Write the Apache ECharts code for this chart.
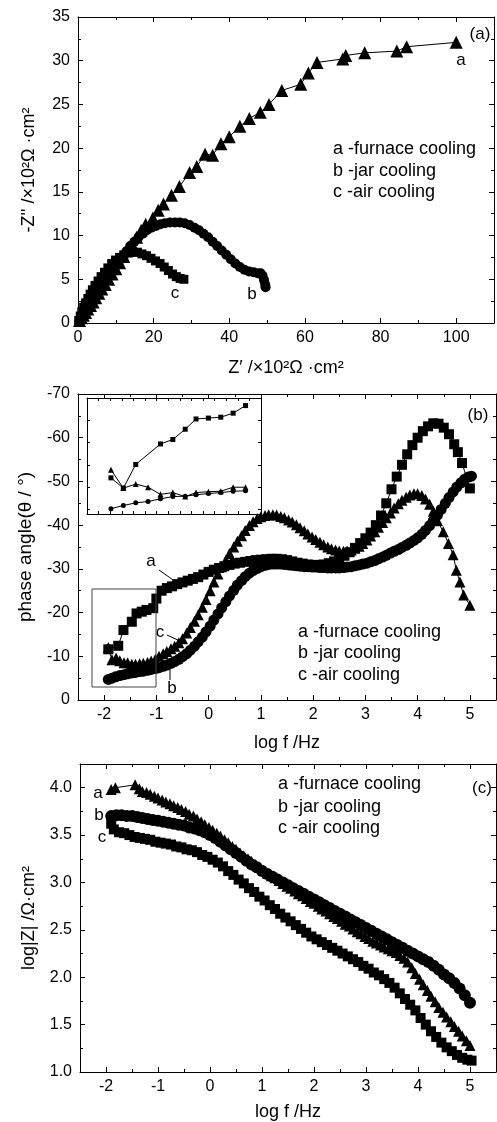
<!DOCTYPE html>
<html>
<head>
<meta charset="utf-8">
<script src="https://cdn.jsdelivr.net/npm/echarts@6/dist/echarts.min.js"></script>
<style>
  html, body { margin: 0; padding: 0; background: #fff; }
  #chart { width: 497px; height: 1122px; }
</style>
</head>
<body>
<div id="chart"></div>
<script>
// (a) Nyquist: [Z', -Z''] in 10^2 ohm.cm2
const nyqFurnace = [[0.4,0.3],[0.9,0.6],[1.4,0.9],[2.0,1.2],[2.6,1.6],[3.3,2.0],[4.0,2.4],[4.7,2.9],[5.5,3.4],[6.3,3.9],[7.2,4.4],[8.1,5.0],[9.0,5.6],[10.0,6.2],[11.0,6.9],[12.1,7.6],[13.2,8.3],[14.3,9.0],[15.5,9.8],[16.7,10.6],[17.9,11.3],[19.8,12.0],[21.2,12.9],[22.6,13.6],[24.7,14.6],[26.8,15.6],[29.5,17.2],[31.4,17.9],[33.6,19.3],[35.6,19.2],[37.8,20.5],[40.0,21.3],[42.8,22.5],[45.3,23.4],[48.2,24.1],[50.5,25.0],[53.9,26.6],[58.9,27.3],[60.9,28.6],[63.2,29.8],[70.0,30.2],[70.8,30.6],[75.8,30.9],[84.3,31.1],[86.9,31.6],[100.0,32.1]];
const nyqJar = [[0.3,0.2],[0.8,0.5],[1.4,0.9],[2.0,1.3],[2.7,1.7],[3.4,2.2],[4.2,2.7],[5.0,3.2],[5.9,3.8],[6.8,4.4],[7.7,5.0],[8.7,5.6],[9.7,6.3],[10.7,6.9],[11.7,7.6],[12.8,8.2],[13.8,8.8],[14.9,9.3],[16.0,9.8],[17.1,10.2],[18.2,10.6],[19.4,10.9],[20.6,11.1],[21.8,11.3],[23.0,11.4],[24.3,11.5],[25.6,11.5],[26.9,11.5],[28.2,11.4],[29.5,11.2],[30.8,10.9],[32.0,10.6],[33.2,10.2],[34.4,9.8],[35.6,9.3],[36.8,8.8],[38.0,8.3],[39.2,7.8],[40.4,7.3],[41.6,6.8],[42.8,6.4],[44.0,6.1],[45.2,5.9],[46.4,5.8],[47.5,5.7],[48.3,5.7],[48.8,5.4],[49.2,4.9],[49.5,4.4],[49.6,4.1]];
const nyqAir = [[0.2,0.3],[0.6,0.8],[1.0,1.3],[1.5,1.8],[2.0,2.3],[2.6,2.8],[3.2,3.3],[3.8,3.8],[4.5,4.3],[5.3,4.8],[6.1,5.3],[7.0,5.8],[7.9,6.3],[8.9,6.8],[9.9,7.2],[11.0,7.5],[12.1,7.8],[13.3,8.0],[14.5,8.1],[15.7,8.1],[16.9,7.9],[18.1,7.7],[19.3,7.4],[20.5,7.1],[21.7,6.8],[22.8,6.4],[23.9,6.0],[25.0,5.6],[26.0,5.3],[27.0,5.1],[28.0,5.0]];

// (b) phase angle vs log f
const phaseFurnace = [[-1.92,-11.6],[-1.73,-12.4],[-1.63,-16.0],[-1.47,-17.9],[-1.38,-19.8],[-1.28,-20.2],[-1.19,-20.6],[-1.06,-21.0],[-1.0,-23.2],[-0.9,-25.0],[-0.8,-25.6],[-0.7,-26.0],[-0.6,-26.5],[-0.5,-26.9],[-0.4,-27.3],[-0.3,-27.7],[-0.2,-28.1],[-0.1,-28.7],[0.0,-29.3],[0.1,-29.8],[0.2,-30.2],[0.3,-30.6],[0.4,-30.9],[0.5,-31.2],[0.6,-31.4],[0.7,-31.6],[0.8,-31.8],[0.9,-32.0],[1.0,-32.1],[1.1,-32.2],[1.2,-32.3],[1.3,-32.3],[1.4,-32.2],[1.5,-32.0],[1.6,-31.7],[1.7,-31.4],[1.8,-31.2],[1.9,-31.0],[2.0,-30.9],[2.1,-30.9],[2.2,-31.0],[2.3,-31.3],[2.4,-31.7],[2.5,-32.3],[2.6,-33.0],[2.7,-33.8],[2.8,-34.8],[2.9,-35.9],[3.0,-37.0],[3.1,-38.3],[3.2,-40.0],[3.3,-42.2],[3.4,-45.0],[3.5,-48.2],[3.6,-51.1],[3.7,-53.8],[3.8,-56.2],[3.9,-58.3],[4.0,-60.0],[4.1,-61.5],[4.2,-62.6],[4.3,-63.3],[4.4,-63.2],[4.5,-62.3],[4.6,-60.8],[4.7,-58.5],[4.77,-56.7],[4.85,-54.2],[5.0,-48.4]];
const phaseJar = [[-1.92,-4.7],[-1.85,-5.0],[-1.78,-5.3],[-1.7,-5.6],[-1.62,-5.8],[-1.55,-6.0],[-1.47,-6.2],[-1.4,-6.3],[-1.32,-6.5],[-1.25,-6.6],[-1.17,-6.8],[-1.1,-7.0],[-1.02,-7.2],[-0.95,-7.4],[-0.87,-7.7],[-0.8,-8.0],[-0.72,-8.4],[-0.65,-8.8],[-0.57,-9.3],[-0.5,-9.9],[-0.42,-10.6],[-0.35,-11.4],[-0.27,-12.3],[-0.2,-13.3],[-0.12,-14.4],[-0.05,-15.6],[0.03,-16.9],[0.1,-18.3],[0.18,-19.7],[0.25,-21.1],[0.33,-22.5],[0.4,-23.8],[0.48,-25.1],[0.55,-26.3],[0.63,-27.3],[0.7,-28.2],[0.78,-29.0],[0.85,-29.6],[0.93,-30.1],[1.0,-30.5],[1.08,-30.8],[1.15,-31.0],[1.23,-31.1],[1.3,-31.1],[1.38,-31.1],[1.45,-31.0],[1.53,-30.9],[1.6,-30.8],[1.68,-30.7],[1.75,-30.6],[1.83,-30.5],[1.9,-30.5],[1.98,-30.4],[2.05,-30.4],[2.13,-30.3],[2.2,-30.3],[2.28,-30.2],[2.35,-30.2],[2.43,-30.2],[2.5,-30.2],[2.58,-30.3],[2.65,-30.4],[2.73,-30.5],[2.8,-30.7],[2.88,-30.9],[2.95,-31.1],[3.03,-31.3],[3.1,-31.6],[3.18,-31.9],[3.25,-32.3],[3.33,-32.7],[3.4,-33.1],[3.48,-33.6],[3.55,-34.0],[3.63,-34.4],[3.7,-34.9],[3.78,-35.4],[3.85,-35.9],[3.93,-36.5],[4.0,-37.1],[4.08,-37.9],[4.15,-38.8],[4.23,-39.9],[4.3,-41.0],[4.38,-42.3],[4.45,-43.6],[4.53,-45.0],[4.6,-46.3],[4.68,-47.6],[4.75,-48.7],[4.83,-49.7],[4.9,-50.5],[4.97,-51.0],[5.03,-51.2]];
const phaseAir = [[-1.92,-12.0],[-1.85,-9.2],[-1.77,-9.6],[-1.7,-9.0],[-1.62,-8.5],[-1.55,-8.5],[-1.47,-8.2],[-1.4,-8.2],[-1.32,-8.3],[-1.25,-8.4],[-1.17,-8.6],[-1.1,-8.9],[-1.02,-9.3],[-0.95,-10.0],[-0.87,-10.6],[-0.8,-11.1],[-0.72,-11.7],[-0.65,-12.3],[-0.57,-13.1],[-0.5,-14.0],[-0.42,-15.3],[-0.35,-16.6],[-0.27,-18.0],[-0.2,-19.5],[-0.12,-21.2],[-0.05,-23.0],[0.03,-25.0],[0.1,-27.0],[0.18,-28.8],[0.25,-30.5],[0.33,-32.0],[0.4,-33.5],[0.48,-35.0],[0.55,-36.3],[0.63,-37.6],[0.7,-38.8],[0.78,-39.9],[0.85,-40.8],[0.93,-41.5],[1.0,-41.9],[1.08,-42.2],[1.15,-42.4],[1.23,-42.4],[1.3,-42.3],[1.38,-42.0],[1.45,-41.7],[1.53,-41.2],[1.6,-40.7],[1.68,-40.1],[1.75,-39.4],[1.83,-38.7],[1.9,-38.0],[1.98,-37.3],[2.05,-36.7],[2.13,-36.1],[2.2,-35.5],[2.28,-35.0],[2.35,-34.6],[2.43,-34.3],[2.5,-34.1],[2.58,-34.0],[2.65,-34.1],[2.73,-34.3],[2.8,-34.7],[2.88,-35.2],[2.95,-35.8],[3.03,-36.6],[3.1,-37.5],[3.18,-38.5],[3.25,-39.5],[3.33,-40.6],[3.4,-41.7],[3.48,-42.8],[3.55,-43.9],[3.63,-44.9],[3.7,-45.7],[3.78,-46.4],[3.85,-46.9],[3.93,-47.2],[4.0,-47.2],[4.08,-46.8],[4.15,-46.0],[4.23,-44.8],[4.3,-43.2],[4.38,-41.0],[4.49,-38.5],[4.59,-35.8],[4.68,-33.2],[4.74,-29.7],[4.81,-27.0],[4.88,-24.0],[5.0,-21.7]];

// inset of (b): low frequency end
const insetLogF = [-1.87,-1.79,-1.71,-1.63,-1.55,-1.47,-1.39,-1.32,-1.24,-1.16,-1.08,-1.00];
const insetFurnace = [-12.1,-9.8,-15.1,null,-19.7,-20.7,-23.0,-25.3,-25.5,-25.7,-26.6,-28.3];
const insetAir = [-13.9,-9.8,-10.7,-10.0,-8.4,-8.8,-7.9,-8.8,-9.0,-9.1,-10.0,-10.0];
const insetJar = [-5.2,-5.9,-6.5,-6.8,-7.4,-7.9,-8.0,-8.3,-8.6,-8.8,-9.1,-9.2];

// (c) log|Z| vs log f
const bodeFurnace = [[-1.9,3.98],[-1.82,4.0],[-1.44,4.03],[-1.36,3.99],[-1.3,3.96],[-1.22,3.95],[-1.15,3.93],[-1.07,3.91],[-1.0,3.89],[-0.92,3.87],[-0.85,3.85],[-0.77,3.83],[-0.7,3.81],[-0.62,3.79],[-0.55,3.77],[-0.47,3.75],[-0.4,3.72],[-0.32,3.70],[-0.25,3.67],[-0.17,3.64],[-0.1,3.61],[-0.02,3.58],[0.05,3.55],[0.13,3.52],[0.2,3.49],[0.28,3.45],[0.35,3.42],[0.43,3.38],[0.5,3.35],[0.58,3.31],[0.65,3.28],[0.73,3.25],[0.8,3.22],[0.88,3.19],[0.95,3.16],[1.03,3.13],[1.1,3.10],[1.18,3.07],[1.25,3.05],[1.33,3.02],[1.4,2.99],[1.48,2.96],[1.55,2.94],[1.63,2.91],[1.7,2.88],[1.78,2.86],[1.85,2.83],[1.93,2.80],[2.0,2.78],[2.08,2.75],[2.15,2.72],[2.23,2.70],[2.3,2.67],[2.38,2.64],[2.45,2.62],[2.53,2.59],[2.6,2.56],[2.68,2.54],[2.75,2.51],[2.83,2.48],[2.9,2.46],[2.98,2.43],[3.05,2.41],[3.13,2.38],[3.2,2.36],[3.28,2.34],[3.35,2.32],[3.43,2.30],[3.5,2.28],[3.58,2.26],[3.65,2.23],[3.73,2.20],[3.8,2.16],[3.88,2.10],[3.95,2.04],[4.03,1.98],[4.1,1.92],[4.18,1.86],[4.25,1.80],[4.33,1.74],[4.4,1.68],[4.48,1.63],[4.55,1.58],[4.63,1.53],[4.7,1.48],[4.78,1.43],[4.85,1.38],[4.93,1.33],[5.0,1.28]];
const bodeJar = [[-1.9,3.70],[-1.8,3.71],[-1.7,3.71],[-1.6,3.70],[-1.5,3.70],[-1.4,3.69],[-1.3,3.68],[-1.2,3.67],[-1.1,3.66],[-1.0,3.65],[-0.9,3.64],[-0.8,3.63],[-0.7,3.62],[-0.6,3.61],[-0.5,3.60],[-0.4,3.58],[-0.3,3.57],[-0.2,3.55],[-0.1,3.53],[0.0,3.50],[0.1,3.47],[0.2,3.43],[0.3,3.39],[0.4,3.35],[0.5,3.31],[0.6,3.27],[0.7,3.23],[0.8,3.19],[0.9,3.16],[1.0,3.12],[1.1,3.09],[1.2,3.06],[1.3,3.03],[1.4,3.00],[1.5,2.97],[1.6,2.94],[1.7,2.91],[1.8,2.88],[1.9,2.85],[2.0,2.82],[2.1,2.79],[2.2,2.76],[2.3,2.73],[2.4,2.70],[2.5,2.67],[2.6,2.64],[2.7,2.61],[2.8,2.58],[2.9,2.55],[3.0,2.52],[3.1,2.49],[3.2,2.46],[3.3,2.43],[3.4,2.40],[3.5,2.37],[3.6,2.34],[3.7,2.31],[3.8,2.28],[3.9,2.25],[4.0,2.22],[4.1,2.19],[4.2,2.16],[4.3,2.12],[4.4,2.08],[4.5,2.03],[4.6,1.99],[4.7,1.94],[4.8,1.88],[4.9,1.81],[5.0,1.73]];
const bodeAir = [[-1.9,3.62],[-1.85,3.56],[-1.75,3.53],[-1.65,3.52],[-1.55,3.50],[-1.45,3.48],[-1.35,3.47],[-1.25,3.46],[-1.15,3.45],[-1.05,3.43],[-0.95,3.42],[-0.85,3.41],[-0.75,3.40],[-0.65,3.38],[-0.55,3.37],[-0.45,3.35],[-0.35,3.34],[-0.25,3.32],[-0.15,3.29],[-0.05,3.27],[0.05,3.24],[0.15,3.21],[0.25,3.17],[0.35,3.12],[0.45,3.08],[0.55,3.03],[0.65,2.99],[0.75,2.94],[0.85,2.90],[0.95,2.85],[1.05,2.81],[1.15,2.76],[1.25,2.72],[1.35,2.67],[1.45,2.63],[1.55,2.59],[1.65,2.55],[1.75,2.51],[1.85,2.47],[1.95,2.43],[2.05,2.40],[2.15,2.37],[2.25,2.34],[2.35,2.31],[2.45,2.28],[2.55,2.25],[2.65,2.22],[2.75,2.19],[2.85,2.16],[2.95,2.12],[3.05,2.09],[3.15,2.05],[3.25,2.02],[3.35,1.98],[3.45,1.94],[3.55,1.89],[3.65,1.83],[3.75,1.77],[3.85,1.71],[3.95,1.65],[4.05,1.57],[4.15,1.50],[4.25,1.43],[4.35,1.37],[4.45,1.31],[4.55,1.26],[4.65,1.22],[4.75,1.18],[4.85,1.15],[4.95,1.13],[5.03,1.12]];

const logTicks = [-2, -1, 0, 1, 2, 3, 4, 5];
const logMinorTicks = [-1.5, -0.5, 0.5, 1.5, 2.5, 3.5, 4.5];
const legendLines = ['a -furnace cooling', 'b -jar cooling', 'c -air cooling'];

const FONT = '"Liberation Sans", Arial, sans-serif';
const black = '#000';

let chart = echarts.init(document.getElementById('chart'));

let axisLine = (show) => ({ show: show, onZero: false, lineStyle: { color: black, width: 1 } });
let ticks = (len, custom) => {
  let t = { show: true, inside: true, length: len, lineStyle: { color: black, width: 1 } };
  if (custom) t.customValues = custom;
  return t;
};
let minor = (n) => ({ show: true, splitNumber: n, length: 3, lineStyle: { color: black, width: 1 } });
let labels = (o) => Object.assign({ show: true, color: black, fontFamily: FONT, fontSize: 16, margin: 7 }, o);
let nameStyle = { color: black, fontFamily: FONT, fontSize: 18 };

// plain box axis (no labels), mirrored on top / right
let mirror = (gridIndex, position, o) => Object.assign({
  type: 'value', gridIndex, position,
  axisLine: axisLine(true), axisTick: ticks(5), axisLabel: { show: false },
  splitLine: { show: false },
}, o);

// log f axes with major ticks on integers and minor ticks on halves
let logAxes = (gridIndex, name, nameGap) => [
  { type: 'value', gridIndex, position: 'bottom', min: -2.5, max: 5.5,
    axisLine: axisLine(true), axisTick: ticks(5, logTicks),
    axisLabel: labels({ customValues: logTicks }), splitLine: { show: false },
    name, nameLocation: 'middle', nameGap, nameTextStyle: nameStyle },
  { type: 'value', gridIndex, position: 'bottom', min: -2.5, max: 5.5,
    axisLine: axisLine(false), axisTick: ticks(3, logMinorTicks),
    axisLabel: { show: false }, splitLine: { show: false } },
  { type: 'value', gridIndex, position: 'top', min: -2.5, max: 5.5,
    axisLine: axisLine(true), axisTick: ticks(5, logTicks),
    axisLabel: { show: false }, splitLine: { show: false } },
  { type: 'value', gridIndex, position: 'top', min: -2.5, max: 5.5,
    axisLine: axisLine(false), axisTick: ticks(3, logMinorTicks),
    axisLabel: { show: false }, splitLine: { show: false } },
];

let pts = (name, data, xi, yi, symbol, size) => ({
  name, type: 'line', data, xAxisIndex: xi, yAxisIndex: yi,
  symbol, symbolSize: size, showSymbol: true, connectNulls: true,
  lineStyle: { color: black, width: 1 }, itemStyle: { color: black },
  emphasis: { disabled: true }, animation: false, silent: true,
});

let txt = (x, y, s, size, align) => ({
  type: 'text', x, y, silent: true, z: 10,
  style: { text: s, font: size + 'px ' + FONT, fill: black, textAlign: align || 'center', textVerticalAlign: 'middle' },
});
let seg = (x1, y1, x2, y2) => ({
  type: 'line', silent: true, z: 10,
  shape: { x1, y1, x2, y2 }, style: { stroke: black, lineWidth: 1 },
});
let legendBlock = (x, ys) => legendLines.map((s, i) => txt(x, ys[i], s, 18, 'left'));

let pair = (vals) => insetLogF.map((x, i) => [x, vals[i]]);

chart.setOption({
  animation: false,
  backgroundColor: '#fff',
  textStyle: { fontFamily: FONT },
  grid: [
    { left: 78, top: 17, width: 418, height: 306 },
    { left: 78, top: 394, width: 418, height: 306 },
    { left: 80, top: 764, width: 416, height: 308 },
    { left: 87, top: 398, width: 174, height: 116, show: true, backgroundColor: '#fff', borderWidth: 0 },
  ],
  xAxis: [
    // (a)
    { type: 'value', gridIndex: 0, position: 'bottom', min: 0, max: 110, interval: 20,
      axisLine: axisLine(true), axisTick: ticks(5), minorTick: minor(2),
      axisLabel: labels({ formatter: (v) => (v % 20 === 0 ? String(v) : '') }),
      splitLine: { show: false },
      name: 'Z′ /×10²Ω ·cm²', nameLocation: 'middle', nameGap: 36, nameTextStyle: nameStyle },
    mirror(0, 'top', { min: 0, max: 110, interval: 20, minorTick: minor(2) }),
    // (b)
    ...logAxes(1, 'log f /Hz', 34),
    // (c)
    ...logAxes(2, 'log f /Hz', 31),
    // inset
    mirror(3, 'bottom', { min: -2.025, max: -0.9, interval: 0.075, axisTick: ticks(3) }),
    mirror(3, 'top', { min: -2.025, max: -0.9, interval: 0.075, axisTick: ticks(3) }),
  ],
  yAxis: [
    // (a)
    { type: 'value', gridIndex: 0, position: 'left', min: 0, max: 35, interval: 5,
      axisLine: axisLine(true), axisTick: ticks(5), minorTick: minor(2),
      axisLabel: labels({ margin: 8 }), splitLine: { show: false },
      name: "-Z'' /×10²Ω ·cm²", nameLocation: 'middle', nameGap: 40, nameTextStyle: nameStyle },
    mirror(0, 'right', { min: 0, max: 35, interval: 5, minorTick: minor(2) }),
    // (b)
    { type: 'value', gridIndex: 1, position: 'left', min: -70, max: 0, interval: 10, inverse: true,
      axisLine: axisLine(true), axisTick: ticks(5), minorTick: minor(2),
      axisLabel: labels({ margin: 8 }), splitLine: { show: false },
      name: 'phase angle(θ / °)', nameLocation: 'middle', nameGap: 43,
      nameTextStyle: Object.assign({}, nameStyle, { fontSize: 19 }) },
    mirror(1, 'right', { min: -70, max: 0, interval: 10, inverse: true, minorTick: minor(2) }),
    // (c)
    { type: 'value', gridIndex: 2, position: 'left', min: 1, max: 4.25, interval: 0.5,
      axisLine: axisLine(true), axisTick: ticks(5), minorTick: minor(2),
      axisLabel: labels({ margin: 8, formatter: (v) => (Math.abs(v * 2 - Math.round(v * 2)) < 1e-6 ? v.toFixed(1) : '') }),
      splitLine: { show: false },
      name: 'log|Z| /Ω·cm²', nameLocation: 'middle', nameGap: 42, nameTextStyle: nameStyle },
    mirror(2, 'right', { min: 1, max: 4.25, interval: 0.5, minorTick: minor(2) }),
    // inset
    mirror(3, 'left', { min: -30, max: -4, interval: 5, inverse: true, axisTick: ticks(3) }),
    mirror(3, 'right', { min: -30, max: -4, interval: 5, inverse: true, axisTick: ticks(3) }),
  ],
  series: [
    pts('a', nyqFurnace, 0, 0, 'triangle', 13),
    pts('b', nyqJar, 0, 0, 'circle', 10),
    pts('c', nyqAir, 0, 0, 'rect', 9),

    pts('a', phaseFurnace, 2, 2, 'rect', 10),
    pts('b', phaseJar, 2, 2, 'circle', 11),
    pts('c', phaseAir, 2, 2, 'triangle', 11),

    pts('a', bodeFurnace, 6, 4, 'triangle', 11),
    pts('b', bodeJar, 6, 4, 'circle', 12),
    pts('c', bodeAir, 6, 4, 'rect', 10),

    pts('a', pair(insetFurnace), 10, 6, 'rect', 5),
    pts('c', pair(insetAir), 10, 6, 'triangle', 6),
    pts('b', pair(insetJar), 10, 6, 'circle', 5),
  ],
  graphic: [
    // (a)
    txt(480, 34, '(a)', 17),
    txt(461, 60, 'a', 17),
    txt(252, 294, 'b', 17),
    txt(175, 293, 'c', 17),
    ...legendBlock(333, [149, 171, 192]),
    // (b)
    txt(478, 415, '(b)', 17),
    txt(151, 561, 'a', 17), seg(159, 570, 176, 582),
    txt(160, 632, 'c', 17), seg(167, 635, 182, 642),
    txt(172, 688, 'b', 17), seg(170, 662, 170, 680),
    { type: 'rect', silent: true, z: 10, shape: { x: 92, y: 589, width: 64, height: 98 },
      style: { fill: 'none', stroke: '#444', lineWidth: 1 } },
    ...legendBlock(298, [632, 653, 675]),
    // (c)
    txt(482, 788, '(c)', 17),
    txt(98, 793, 'a', 17),
    txt(99, 815, 'b', 17),
    txt(102, 837, 'c', 17),
    ...legendBlock(278, [784, 807, 828]),
  ],
});
</script>
</body>
</html>
